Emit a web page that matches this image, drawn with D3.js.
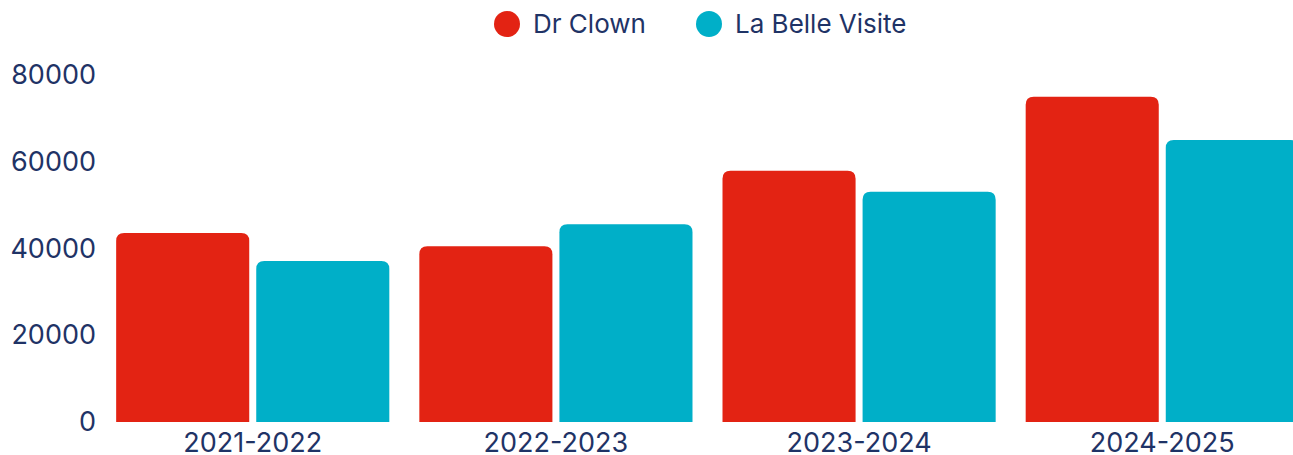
<!DOCTYPE html>
<html><head><meta charset="utf-8">
<script src="https://cdn.jsdelivr.net/npm/d3@7"></script>
<style>body{margin:0;background:#fff;} text{font-family:Inter, "Open Sans", sans-serif;}</style>
</head><body>
<svg id="c" width="1293" height="455"></svg>
<script>
const categories = ["2021-2022","2022-2023","2023-2024","2024-2025"];
const seriesNames = ["Dr Clown","La Belle Visite"];
const drClown = [43600, 40500, 57900, 75000];
const laBelleVisite = [37100, 45600, 53100, 65000];
const yTicks = [0, 20000, 40000, 60000, 80000];
const colors = ["#e32313", "#00afc8"];
const textColor = "#1f3366";

const svg = d3.select("#c");
const x = d3.scaleBand().domain(categories).range([101, 1314]).paddingInner(0.099).paddingOuter(0.05);
const x1 = d3.scaleBand().domain(seriesNames).range([0, x.bandwidth()]).paddingInner(0.05);
const y = d3.scaleLinear().domain([0, 80000]).range([422, 75]);

const data = [drClown, laBelleVisite];
const r = 8;
function topRounded(x0, y0, w, h) {
  const rr = Math.min(r, h, w/2);
  return `M${x0},${y0+h}V${y0+rr}Q${x0},${y0} ${x0+rr},${y0}H${x0+w-rr}Q${x0+w},${y0} ${x0+w},${y0+rr}V${y0+h}Z`;
}
seriesNames.forEach((s, si) => {
  svg.append("g").selectAll("path").data(categories).join("path")
    .attr("d", (c, i) => {
      const bx = x(c) + x1(s), by = y(data[si][i]);
      return topRounded(bx, by, x1.bandwidth(), y(0) - by);
    })
    .attr("fill", colors[si]);
});

const yAxis = svg.append("g").attr("transform", "translate(96,0)")
  .call(d3.axisLeft(y).tickValues(yTicks).tickSize(0).tickPadding(0).tickFormat(d3.format("d")));
yAxis.select(".domain").remove();
yAxis.selectAll("text").attr("fill", textColor).style("font-size", "27px").attr("font-family", null);

const xAxis = svg.append("g").attr("transform", "translate(0,422)")
  .call(d3.axisBottom(x).tickSize(0).tickPadding(0));
xAxis.select(".domain").remove();
xAxis.selectAll("text").attr("fill", textColor).style("font-size", "27px").attr("font-family", null)
  .attr("y", 21).attr("dy", "0.35em");

const legendX = [507, 709];
const lg = svg.append("g");
seriesNames.forEach((s, i) => {
  lg.append("circle").attr("cx", legendX[i]).attr("cy", 24).attr("r", 13).attr("fill", colors[i]);
  lg.append("text").attr("x", legendX[i] + 26).attr("y", 24).attr("dy", "0.35em")
    .attr("fill", textColor).style("font-size", "26px").text(s);
});
</script>
</body></html>
